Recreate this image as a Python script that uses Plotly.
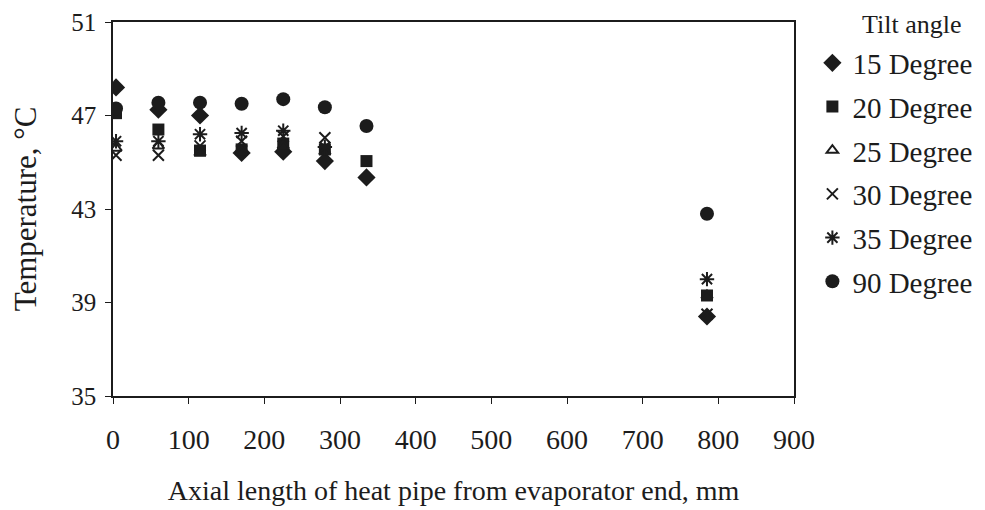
import plotly.graph_objects as go

# Axial positions (mm)
x_pos = [4, 60, 115, 170, 225, 280, 335, 785]
x_pos_short = [4, 60, 115, 170, 225, 280, 785]

# Temperatures (deg C) per tilt angle
t15 = [48.2, 47.25, 47.0, 45.4, 45.45, 45.05, 44.35, 38.4]
t20 = [47.1, 46.4, 45.5, 45.55, 45.8, 45.55, 45.05, 39.3]
t25 = [45.6, 45.7, 45.4, 45.45, 45.7, 45.45, 39.3]
t30 = [45.3, 45.3, 45.7, 45.9, 46.1, 46.05, 38.5]
t35 = [45.9, 45.9, 46.2, 46.25, 46.35, 45.65, 40.0]
t90 = [47.3, 47.55, 47.55, 47.5, 47.7, 47.35, 46.55, 42.8]

series = [
    ("15 Degree", x_pos, t15, "diamond", 14, 0),
    ("20 Degree", x_pos, t20, "square", 12, 0),
    ("25 Degree", x_pos_short, t25, "triangle-up-open", 10, 2),
    ("30 Degree", x_pos_short, t30, "x-thin-open", 11, 2),
    ("35 Degree", x_pos_short, t35, "asterisk-open", 12, 2),
    ("90 Degree", x_pos, t90, "circle", 14, 0),
]

ink = "#1c1c1c"
fig = go.Figure()
for i, (name, xs, ys, sym, size, lw) in enumerate(series):
    fig.add_trace(go.Scatter(
        x=xs, y=ys, mode="markers", name=name, legendgroup=f"g{i}",
        marker=dict(symbol=sym, size=size, color=ink,
                    line=dict(color=ink, width=lw)),
    ))

font_family = "Liberation Serif, Times New Roman, serif"
fig.update_layout(
    width=977, height=502,
    margin=dict(l=105, r=191, t=14, b=114, autoexpand=False),
    paper_bgcolor="white", plot_bgcolor="white",
    font=dict(family=font_family, color=ink, size=24),
    showlegend=True,
    legend=dict(
        x=1.027, xanchor="left", y=0.9587, yanchor="top",
        font=dict(size=29), traceorder="grouped", tracegroupgap=3,
        itemwidth=30, bgcolor="rgba(0,0,0,0)", maxheight=480,
    ),
    annotations=[dict(
        text="Tilt angle", xref="paper", yref="paper",
        x=1.173, y=1.0374, xanchor="center", yanchor="top",
        showarrow=False, font=dict(size=26),
    )],
    xaxis=dict(
        range=[0, 900], tickvals=[0, 100, 200, 300, 400, 500, 600, 700, 800, 900],
        showgrid=False, zeroline=False, showline=True, linecolor=ink, linewidth=1.5,
        mirror=True, ticks="outside", ticklen=6, tickcolor=ink,
        tickfont=dict(size=28), ticklabelstandoff=12,
        title=dict(text="Axial length of heat pipe from evaporator end, mm",
                   font=dict(size=28), standoff=26),
    ),
    yaxis=dict(
        range=[35, 51], tickvals=[35, 39, 43, 47, 51],
        showgrid=False, zeroline=False, showline=True, linecolor=ink, linewidth=1.5,
        mirror=True, ticks="outside", ticklen=6, tickcolor=ink,
        tickfont=dict(size=25), ticklabelstandoff=4,
        title=dict(text="Temperature, °C", font=dict(size=31), standoff=26),
    ),
)

fig.write_html("out.html")
